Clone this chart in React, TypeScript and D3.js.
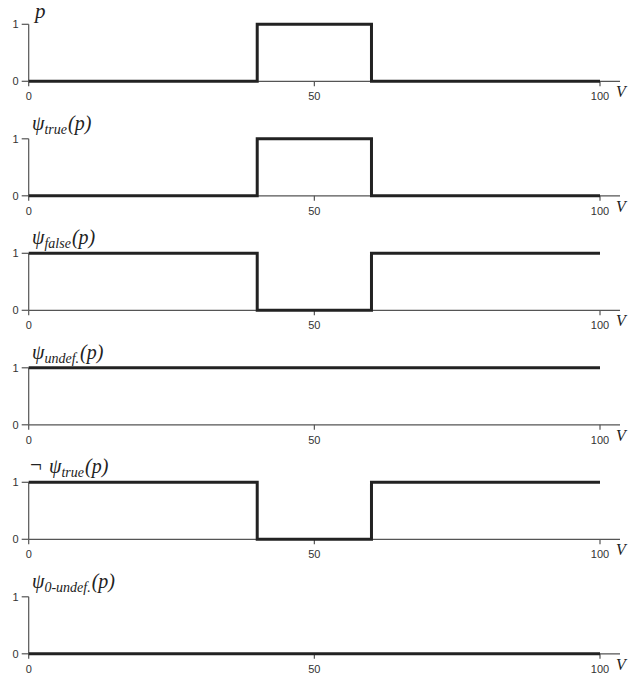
import React from "react";
import * as d3 from "d3";

const breakpoints = [0, 40, 60, 100];
const pValues = [0, 1, 0];
const psiTrueValues = [0, 1, 0];
const psiFalseValues = [1, 0, 1];
const psiUndefValues = [1, 1, 1];
const notPsiTrueValues = [1, 0, 1];
const psi0UndefValues = [0, 0, 0];

const xTicks = [0, 50, 100];
const yTicks = [0, 1];

type Panel = { neg: boolean; main: string; sub: string; suffix: string; values: number[] };
const panels: Panel[] = [
  { neg: false, main: "p", sub: "", suffix: "", values: pValues },
  { neg: false, main: "ψ", sub: "true", suffix: "(p)", values: psiTrueValues },
  { neg: false, main: "ψ", sub: "false", suffix: "(p)", values: psiFalseValues },
  { neg: false, main: "ψ", sub: "undef.", suffix: "(p)", values: psiUndefValues },
  { neg: true, main: "ψ", sub: "true", suffix: "(p)", values: notPsiTrueValues },
  { neg: false, main: "ψ", sub: "0-undef.", suffix: "(p)", values: psi0UndefValues },
];

const W = 637;
const H = 675;
const firstY0 = 81.3;
const panelStep = 114.5;
const panelH = 57;

const x = d3.scaleLinear().domain([0, 100]).range([28.7, 600]);

function PanelView({ panel, idx }: { panel: Panel; idx: number }) {
  const y0 = firstY0 + idx * panelStep;
  const y = d3.scaleLinear().domain([0, 1]).range([y0, y0 - panelH]);
  const pts: [number, number][] = panel.values.map((v, i) => [breakpoints[i], v]);
  pts.push([breakpoints[breakpoints.length - 1], panel.values[panel.values.length - 1]]);
  const line = d3
    .line<[number, number]>()
    .x((d) => x(d[0]))
    .y((d) => y(d[1]))
    .curve(d3.curveStepAfter);
  const axisColor = "#555";
  const labelX = panel.neg ? 49 : panel.sub ? 32 : 35;
  return (
    <g>
      <line x1={x(0)} x2={620} y1={y(0)} y2={y(0)} stroke={axisColor} strokeWidth={1.2} />
      {xTicks.map((t) => (
        <line key={"xt" + t} x1={x(t)} x2={x(t)} y1={y(0)} y2={y(0) + 5} stroke={axisColor} strokeWidth={1.2} />
      ))}
      {xTicks.map((t) => (
        <text
          key={"xl" + t}
          x={x(t)}
          y={y(0) + 19}
          textAnchor="middle"
          style={{ fontFamily: "Liberation Sans", fontSize: "11px" }}
          fill="#333"
        >
          {String(t)}
        </text>
      ))}
      <line x1={x(0)} x2={x(0)} y1={y(0)} y2={y(1)} stroke={axisColor} strokeWidth={1.2} />
      {yTicks.map((t) => (
        <line key={"yt" + t} x1={x(0) - 7} x2={x(0)} y1={y(t)} y2={y(t)} stroke={axisColor} strokeWidth={1.2} />
      ))}
      {yTicks.map((t) => (
        <text
          key={"yl" + t}
          x={x(0) - 10}
          y={y(t) + 4}
          textAnchor="end"
          style={{ fontFamily: "Liberation Sans", fontSize: "11px" }}
          fill="#333"
        >
          {String(t)}
        </text>
      ))}
      <text
        x={616}
        y={y(0) + 16}
        style={{ fontFamily: "Liberation Serif", fontSize: "16px", fontStyle: "italic" }}
        fill="#222"
      >
        V
      </text>
      <path d={line(pts) || ""} fill="none" stroke="#222" strokeWidth={3} />
      {panel.neg && (
        <text x={30} y={y0 - 67} style={{ fontFamily: "Liberation Serif", fontSize: "21px" }} fill="#222">
          ¬
        </text>
      )}
      <text
        x={labelX}
        y={panel.sub ? y0 - 66 : y0 - 63}
        style={{ fontFamily: "Liberation Serif", fontSize: panel.sub ? "20px" : "21px", fontStyle: "italic" }}
        fill="#222"
      >
        {panel.main}
        {panel.sub ? (
          <tspan style={{ fontSize: "14px" }} dy={4}>
            {panel.sub}
          </tspan>
        ) : null}
        {panel.suffix ? (
          <tspan dy={-4} dx={1}>
            {panel.suffix}
          </tspan>
        ) : null}
      </text>
    </g>
  );
}

export default function App() {
  return (
    <svg width={W} height={H} style={{ display: "block", position: "absolute", left: 0, top: 0 }}>
      <rect width={W} height={H} fill="#fff" />
      {panels.map((p, i) => (
        <PanelView key={i} panel={p} idx={i} />
      ))}
    </svg>
  );
}
